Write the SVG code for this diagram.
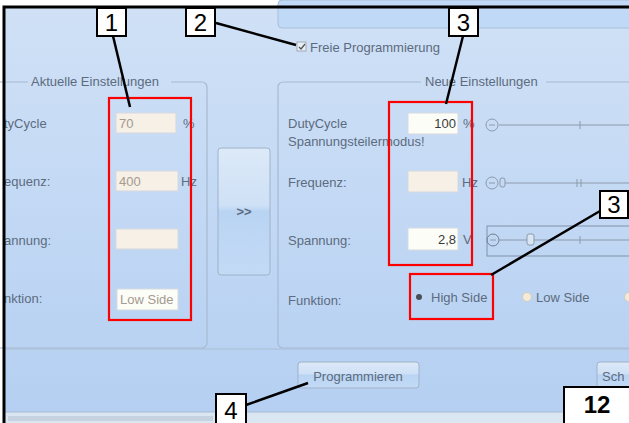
<svg xmlns="http://www.w3.org/2000/svg" width="629" height="423" viewBox="0 0 629 423">
<defs>
<linearGradient id="bg" x1="0" y1="0" x2="0" y2="1">
<stop offset="0" stop-color="#d0e1f6"/>
<stop offset="1" stop-color="#b4cff2"/>
</linearGradient>
<linearGradient id="btn" x1="0" y1="0" x2="0" y2="1">
<stop offset="0" stop-color="#dce9f8"/>
<stop offset="0.45" stop-color="#cfe1f6"/>
<stop offset="0.5" stop-color="#b9d4f3"/>
<stop offset="1" stop-color="#c3daf5"/>
</linearGradient>
<style>
.ui{font-family:"Liberation Sans",Arial,sans-serif;font-size:13px;fill:#5c6b7e;}
.dis{fill:#a39a90;}
.val{fill:#3a3a3a;}
.panel{fill:none;stroke:#a7bad1;stroke-width:1.2;}
.field{fill:#f6f0e6;stroke:#d5d9df;stroke-width:1;}
.fieldw{fill:#fdfdf8;stroke:#d5d9df;stroke-width:1;}
.red{fill:none;stroke:#ff0000;stroke-width:2.2;}
.cbox{fill:#ffffff;stroke:#000;stroke-width:2;}
.cnum{font-family:"Liberation Sans",Arial,sans-serif;font-size:24px;fill:#000;text-anchor:middle;}
.lead{stroke:#000;stroke-width:2.5;fill:none;}
.sl{stroke:#8c9aab;stroke-width:1;fill:none;}
</style>
</defs>
<rect width="629" height="423" fill="#ffffff"/>
<rect x="4" y="7" width="625" height="416" fill="url(#bg)"/>
<g id="top-panel">
<rect x="278" y="0" width="360" height="28" rx="4" fill="#c0d9f6" stroke="#a9bfd8"/>
</g>
<g id="freie">
<rect x="297" y="42" width="9" height="9" fill="#e8eef5" stroke="#a0aab5"/>
<path d="M299 47 l2 2 l4 -5" stroke="#555" stroke-width="1.3" fill="none"/>
<text class="ui" x="310" y="52">Freie Programmierung</text>
</g>
<g id="aktuelle">
<path class="panel" d="M-5 82 H28 M171 82 H202 a5 5 0 0 1 5 5 V343 a5 5 0 0 1 -5 5 H-5"/>
<text class="ui" x="31" y="86">Aktuelle Einstellungen</text>
<text class="ui" x="4" y="128">tyCycle</text>
<rect class="field" x="116" y="113" width="60" height="20"/>
<text class="ui dis" x="119" y="128">70</text>
<text class="ui" x="183" y="128">%</text>
<text class="ui" x="4" y="186">equenz:</text>
<rect class="field" x="116" y="171" width="62" height="20"/>
<text class="ui dis" x="119" y="186">400</text>
<text class="ui" x="181" y="186">Hz</text>
<text class="ui" x="4" y="245">annung:</text>
<rect class="field" x="116" y="229" width="62" height="20"/>
<text class="ui" x="4" y="303">nktion:</text>
<rect class="fieldw" x="117" y="289" width="61" height="21"/>
<text class="ui dis" x="120" y="304">Low Side</text>
</g>
<g id="transfer">
<rect x="218" y="148" width="52" height="127" rx="3" fill="url(#btn)" stroke="#9fb2c8"/>
<text class="ui" x="244" y="216" text-anchor="middle" font-size="11" font-weight="bold" fill="#6f88a8">&gt;&gt;</text>
</g>
<g id="neue">
<path class="panel" d="M640 82 H546 M421 82 H283 a5 5 0 0 0 -5 5 V343 a5 5 0 0 0 5 5 H640"/>
<text class="ui" x="425" y="86">Neue Einstellungen</text>
<text class="ui" x="288" y="128">DutyCycle</text>
<text class="ui" x="288" y="146">Spannungsteilermodus!</text>
<rect class="fieldw" x="408" y="113" width="50" height="21"/>
<text class="ui val" x="456" y="128" text-anchor="end">100</text>
<text class="ui" x="463" y="128">%</text>
<circle cx="492" cy="125" r="6" fill="none" stroke="#8c9aab"/>
<line class="sl" x1="489" y1="125" x2="495" y2="125"/>
<line class="sl" x1="499" y1="125" x2="629" y2="125"/>
<line class="sl" x1="580" y1="121" x2="580" y2="129"/>
<text class="ui" x="288" y="187">Frequenz:</text>
<rect class="field" x="408" y="171" width="50" height="21"/>
<text class="ui" x="462" y="187">Hz</text>
<circle cx="492" cy="183" r="6" fill="none" stroke="#8c9aab"/>
<line class="sl" x1="489" y1="183" x2="495" y2="183"/>
<rect x="500" y="178" width="5" height="9" rx="2" fill="none" stroke="#8c9aab"/>
<line class="sl" x1="505" y1="183" x2="629" y2="183"/>
<line class="sl" x1="577" y1="179" x2="577" y2="187"/>
<line class="sl" x1="581" y1="179" x2="581" y2="187"/>
<text class="ui" x="288" y="245">Spannung:</text>
<rect class="fieldw" x="408" y="228" width="50" height="22"/>
<text class="ui val" x="456" y="244" text-anchor="end">2,8</text>
<text class="ui" x="463" y="244">V</text>
<rect x="487" y="226" width="145" height="30" fill="none" stroke="#8292a6"/>
<circle cx="493" cy="240" r="6" fill="none" stroke="#6f7f93"/>
<line class="sl" x1="490" y1="240" x2="496" y2="240"/>
<line class="sl" x1="499" y1="240" x2="629" y2="240"/>
<rect x="527" y="234" width="7" height="11" rx="2" fill="#d9e5f3" stroke="#8c9aab"/>
<line class="sl" x1="580" y1="236" x2="580" y2="244"/>
<text class="ui" x="288" y="305">Funktion:</text>
<circle cx="419" cy="297" r="3" fill="#4a4f57"/>
<text class="ui" x="431" y="302" fill="#555f70">High Side</text>
<circle cx="527" cy="297" r="4.5" fill="#f3ead7" stroke="#d2ccbd"/>
<text class="ui" x="536" y="302" fill="#8a97a8">Low Side</text>
<circle cx="629" cy="297" r="4.5" fill="#f3ead7" stroke="#d2ccbd"/>
</g>
<g id="buttons">
<line x1="4" y1="349" x2="629" y2="349" stroke="#aabdd4"/>
<rect x="298" y="362" width="121" height="26" rx="3" fill="url(#btn)" stroke="#9fb2c8"/>
<text class="ui" x="358" y="381" text-anchor="middle" fill="#4b5a70">Programmieren</text>
<rect x="597" y="362" width="40" height="26" rx="3" fill="url(#btn)" stroke="#9fb2c8"/>
<text class="ui" x="602" y="381" fill="#4b5a70">Sch</text>
</g>
<g id="statusbar">
<rect x="4" y="412" width="625" height="11" fill="#dbe6f3"/>
<line x1="4" y1="412" x2="629" y2="412" stroke="#a9bcd2"/>
<rect x="8" y="416" width="205" height="5" fill="#b8c4d4" opacity="0.6"/>
</g>
<g id="frame">
<path d="M4 423 V7 H629" fill="none" stroke="#000" stroke-width="3"/>
</g>
<g id="highlights">
<rect class="red" x="109" y="98" width="82" height="222"/>
<rect class="red" x="389" y="102" width="83" height="163"/>
<rect class="red" x="410" y="274" width="83" height="45"/>
</g>
<g id="connectors">
<line class="lead" x1="113" y1="36" x2="130" y2="107"/>
<line class="lead" x1="216" y1="23" x2="296" y2="45"/>
<line class="lead" x1="463" y1="36" x2="446" y2="104"/>
<line class="lead" x1="600" y1="211" x2="491" y2="275"/>
<line class="lead" x1="246" y1="405" x2="308" y2="383"/>
</g>
<g id="callout-1">
<rect class="cbox" x="97" y="8" width="29" height="28"/>
<text class="cnum" x="111.5" y="31">1</text>
</g>
<g id="callout-2">
<rect class="cbox" x="186" y="8" width="29" height="28"/>
<text class="cnum" x="200.5" y="31">2</text>
</g>
<g id="callout-3a">
<rect class="cbox" x="449" y="8" width="29" height="28"/>
<text class="cnum" x="463.5" y="31">3</text>
</g>
<g id="callout-3b">
<rect class="cbox" x="600" y="191" width="28" height="27"/>
<text class="cnum" x="614" y="213">3</text>
</g>
<g id="callout-4">
<rect class="cbox" x="216" y="394" width="30" height="30"/>
<text class="cnum" x="231" y="419">4</text>
</g>
<g id="page-number">
<rect class="cbox" x="564" y="387" width="67" height="38"/>
<text x="597" y="413" font-family="Liberation Sans,Arial,sans-serif" font-size="24" font-weight="bold" text-anchor="middle">12</text>
</g>
</svg>
